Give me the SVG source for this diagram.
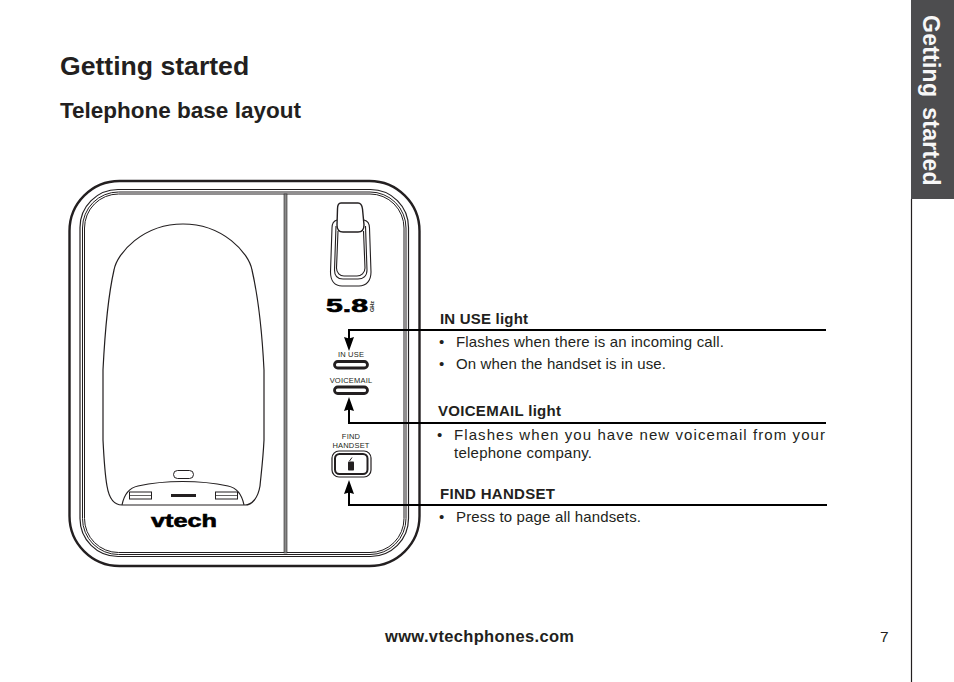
<svg xmlns="http://www.w3.org/2000/svg" width="954" height="682" viewBox="0 0 954 682">
<style>
text{font-family:"Liberation Sans",Arial,sans-serif;fill:#231f20}
.b{font-weight:bold}
.t{font-size:15px}
.h{font-size:15px;font-weight:bold}
.o{fill:none;stroke:#231f20}
.w{fill:#fff;stroke:#231f20}
.c{fill:none;stroke:#000;stroke-width:2}
.m{font-size:7.5px;text-anchor:middle;letter-spacing:.2px}
.k{fill:#000;stroke:#000;stroke-width:.6px}
</style>
<defs>
<marker id="ah" markerUnits="userSpaceOnUse" markerWidth="14" markerHeight="11" refX="11" refY="5.5" orient="auto" viewBox="0 0 14 11"><path d="M14 5.500L0 .5L1.500 5.500L0 10.500Z" fill="#000"/></marker>
</defs>
<rect width="954" height="682" fill="#fff"/>
<g id="tab">
<rect x="911" y="0" width="43" height="199" fill="#4d4d4f"/>
<line x1="911.500" y1="199" x2="911.500" y2="682" stroke="#231f20" stroke-width="1.200"/>
<text class="b" transform="translate(923,15) rotate(90) scale(1,1.08)" font-size="23" word-spacing="3.500" letter-spacing=".25" style="fill:#f7f7f7">Getting started</text>
</g>
<g id="headings">
<text class="b" x="60" y="75" font-size="26.600">Getting started</text>
<text class="b" x="60" y="118" font-size="22.500">Telephone base layout</text>
</g>
<g id="base">
<rect class="o" x="69.500" y="181" width="350" height="385" rx="50" stroke-width="2.400"/>
<rect class="o" x="80" y="189.500" width="328.500" height="367" rx="38" stroke-width="1.200"/>
<rect class="o" x="82.500" y="192" width="323.500" height="362.500" rx="36" stroke-width="1"/>
<rect class="o" x="84.500" y="194" width="319.500" height="358.500" rx="34" stroke-width="1"/>
<rect x="284" y="194" width="3" height="359" fill="#8a8a8a" stroke="#231f20" stroke-width=".6"/>
<path class="o" stroke-width="1.200" d="M103 370C105 330 109 292 114 270C117 253 143 224 183 224C223 224 249 253 252 270C257 292 262 330 264 370C264 400 264 430 264 440C263 460 261 475 260 486C258 498 252 505 245 505H122C114 505 109 498 107 486C105 475 104 460 103 440Z"/>
<path class="o" stroke-width="1.200" d="M122 505C124 495 128 488 138 486C165 480 200 480 228 486C238 488 242 495 244 505"/>
<rect class="o" x="129.500" y="492" width="22" height="7" stroke-width="1"/><line x1="129.500" y1="495.500" x2="151.500" y2="495.500" stroke="#231f20" stroke-width=".7"/>
<rect class="o" x="215.500" y="492" width="22" height="7" stroke-width="1"/><line x1="215.500" y1="495.500" x2="237.500" y2="495.500" stroke="#231f20" stroke-width=".7"/>
<rect x="171" y="494" width="25" height="3" fill="#231f20"/>
<rect class="o" x="173.500" y="470.500" width="20" height="8" rx="4" stroke-width="1"/>
<text class="b k" x="151" y="527" font-size="18.500" textLength="66" lengthAdjust="spacingAndGlyphs">vtech</text>
</g>
<g id="antenna">
<path class="o" stroke-width="1.100" d="M337 220C333 221 332 224 332 228L330.500 272C330.500 281 335 286 342 286H359C366 286 371 281 371 272L369.500 228C369.500 224 368 221 364 220"/>
<path class="o" stroke-width="1.100" d="M336 226L334.500 270C334.500 276 338 279 343 279H358C363 279 367 276 367 270L365.500 226"/>
<path class="o" stroke-width="1.100" d="M338 231L336.500 268C336.500 273 340 276 344 276H357C361 276 365 273 365 268L363.500 231"/>
<path class="w" stroke-width="1.400" d="M341 203H358C361 203 362 205 362.500 209L364 225C364 229 362 232 358 232H343C339 232 337 229 337 225L337.500 209C337.500 205 338 203 341 203Z"/>
<text class="b k" x="326" y="312" font-size="18" textLength="42" lengthAdjust="spacingAndGlyphs">5.8</text>
<text class="b" transform="translate(374,312) rotate(-90)" font-size="5.500">GHz</text>
</g>
<g id="in-use">
<text class="m" x="351" y="357">IN USE</text>
<rect class="w" x="334.500" y="361.500" width="33" height="6.500" rx="3.250" stroke-width="2.800"/>
</g>
<g id="voicemail">
<text class="m" x="351" y="383">VOICEMAIL</text>
<rect class="w" x="334.500" y="387" width="33" height="6.500" rx="3.250" stroke-width="2.800"/>
</g>
<g id="find-handset">
<text class="m" x="351" y="439">FIND</text>
<text class="m" x="351" y="448">HANDSET</text>
<rect class="o" x="332" y="451" width="39" height="26" rx="7" stroke-width="1.200"/>
<rect class="w" x="335" y="454" width="32.500" height="20" rx="4.500" stroke-width="2"/>
<rect x="348" y="461.500" width="6" height="9" rx=".8" fill="#231f20"/>
<line x1="349.500" y1="461" x2="352" y2="457.500" stroke="#231f20"/>
</g>
<g id="connectors">
<path class="c" d="M826 330H349V348" marker-end="url(#ah)"/>
<path class="c" d="M826 423H349V400" marker-end="url(#ah)"/>
<path class="c" d="M827 505H349V483" marker-end="url(#ah)"/>
</g>
<g id="callouts">
<text class="h" x="440" y="324" textLength="88">IN USE light</text>
<text class="t" x="439" y="347">•</text><text class="t" x="456" y="347" textLength="268">Flashes when there is an incoming call.</text>
<text class="t" x="439" y="369">•</text><text class="t" x="456" y="369" textLength="210">On when the handset is in use.</text>
<text class="h" x="438" y="416" textLength="123">VOICEMAIL light</text>
<text class="t" x="437" y="440">•</text><text class="t" x="454" y="440" textLength="371">Flashes when you have new voicemail from your</text>
<text class="t" x="454" y="458" textLength="138">telephone company.</text>
<text class="h" x="440" y="499" textLength="115">FIND HANDSET</text>
<text class="t" x="439" y="522">•</text><text class="t" x="456" y="522" textLength="185">Press to page all handsets.</text>
</g>
<g id="footer">
<text class="b" x="385" y="642" font-size="16.500" textLength="189">www.vtechphones.com</text>
<text x="880" y="642" font-size="15.500">7</text>
</g>
</svg>
